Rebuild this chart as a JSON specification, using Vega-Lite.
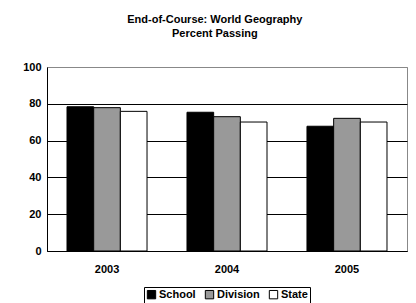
{
  "$schema": "https://vega.github.io/schema/vega-lite/v6.json",
  "autosize": "none",
  "width": 360,
  "height": 184,
  "padding": {"left": 47, "top": 67, "right": 9, "bottom": 52},
  "background": "white",
  "config": {
    "font": "Liberation Sans",
    "view": {"stroke": "#888888", "strokeWidth": 1}
  },
  "title": {
    "text": ["End-of-Course: World Geography", "Percent Passing"],
    "fontSize": 11,
    "fontWeight": "bold",
    "font": "Liberation Sans",
    "anchor": "middle",
    "frame": "bounds",
    "lineHeight": 14,
    "offset": 22,
    "color": "black"
  },
  "data": {
    "values": [
      {"year": "2003", "group": "School", "value": 78.4},
      {"year": "2003", "group": "Division", "value": 77.9},
      {"year": "2003", "group": "State", "value": 75.9},
      {"year": "2004", "group": "School", "value": 75.4},
      {"year": "2004", "group": "Division", "value": 73.0},
      {"year": "2004", "group": "State", "value": 70.1},
      {"year": "2005", "group": "School", "value": 67.8},
      {"year": "2005", "group": "Division", "value": 72.1},
      {"year": "2005", "group": "State", "value": 70.1}
    ]
  },
  "mark": {"type": "bar", "stroke": "black", "strokeWidth": 1},
  "encoding": {
    "x": {
      "field": "year",
      "type": "nominal",
      "scale": {"paddingInner": 0.333, "paddingOuter": 0.1667},
      "axis": {
        "title": null,
        "labelAngle": 0,
        "labelFont": "Liberation Sans",
        "labelFontWeight": "bold",
        "labelFontSize": 11,
        "labelColor": "black",
        "labelPadding": 12,
        "ticks": false,
        "domainColor": "black",
        "grid": false
      }
    },
    "xOffset": {"field": "group", "type": "nominal", "sort": ["School", "Division", "State"]},
    "y": {
      "field": "value",
      "type": "quantitative",
      "scale": {"domain": [0, 100], "nice": false},
      "axis": {
        "title": null,
        "values": [0, 20, 40, 60, 80, 100],
        "labelFont": "Liberation Sans",
        "labelFontWeight": "bold",
        "labelFontSize": 11,
        "labelColor": "black",
        "labelPadding": 6,
        "ticks": false,
        "domainColor": "black",
        "grid": true,
        "gridColor": {"condition": {"test": "datum.value == 100", "value": "#888888"}, "value": "black"},
        "gridOpacity": 1,
        "gridWidth": 1
      }
    },
    "fill": {
      "field": "group",
      "type": "nominal",
      "sort": ["School", "Division", "State"],
      "scale": {"domain": ["School", "Division", "State"], "range": ["#000000", "#999999", "#ffffff"]},
      "legend": {
        "title": null,
        "orient": "none",
        "legendX": 97,
        "legendY": 220,
        "direction": "horizontal",
        "strokeColor": "black",
        "padding": 2,
        "symbolType": "square",
        "symbolSize": 70,
        "symbolStrokeColor": "black",
        "symbolStrokeWidth": 1,
        "symbolOpacity": 1,
        "labelFont": "Liberation Sans",
        "labelFontWeight": "bold",
        "labelFontSize": 11,
        "labelColor": "black",
        "labelOffset": 2,
        "columnPadding": 7
      }
    }
  }
}
